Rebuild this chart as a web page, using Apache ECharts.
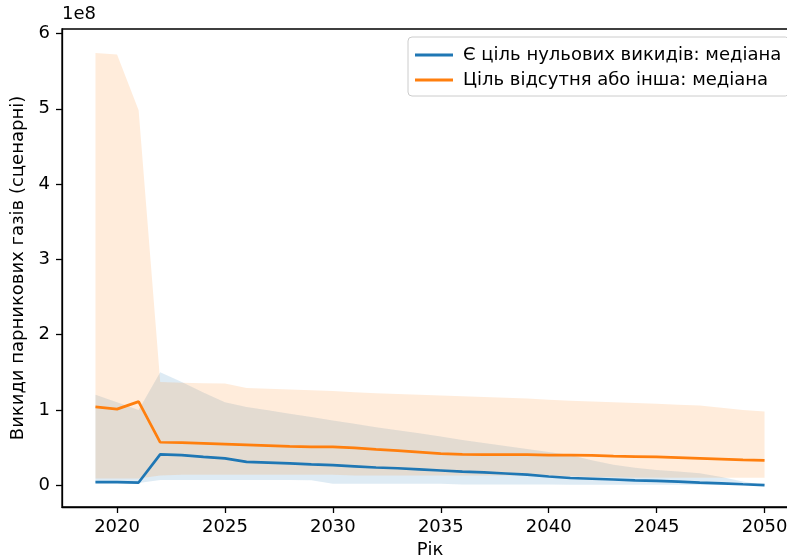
<!DOCTYPE html>
<html>
<head>
<meta charset="utf-8">
<script src="https://cdn.jsdelivr.net/npm/echarts@6/dist/echarts.min.js"></script>
<style>
  html, body { margin: 0; padding: 0; background: #fff; }
  #chart { width: 787px; height: 558px; }
</style>
</head>
<body>
<div id="chart"></div>
<script>
// значення в одиницях 1e8
var years = [2019, 2020, 2021, 2022, 2023, 2024, 2025, 2026, 2027, 2028, 2029, 2030, 2031, 2032, 2033, 2034,
             2035, 2036, 2037, 2038, 2039, 2040, 2041, 2042, 2043, 2044, 2045, 2046, 2047, 2048, 2049, 2050];

var netZeroMedian = [0.04, 0.04, 0.035, 0.41, 0.40, 0.375, 0.355, 0.31, 0.30, 0.29, 0.275, 0.265, 0.25, 0.235, 0.225, 0.21,
                     0.195, 0.18, 0.17, 0.155, 0.14, 0.115, 0.095, 0.085, 0.075, 0.065, 0.057, 0.047, 0.035, 0.025, 0.012, 0.0];
var netZeroLow = [0.03, 0.03, 0.03, 0.07, 0.07, 0.07, 0.07, 0.07, 0.07, 0.07, 0.065, 0.02, 0.02, 0.02, 0.02, 0.02,
                  0.02, 0.01, 0.01, 0.01, 0.01, 0.01, 0.005, 0.005, 0.005, 0.005, 0.005, 0.005, 0.005, 0.005, 0.005, 0.0];
var netZeroHigh = [1.20, 1.10, 1.00, 1.50, 1.37, 1.23, 1.10, 1.04, 0.995, 0.95, 0.905, 0.86, 0.815, 0.77, 0.73, 0.69,
                   0.645, 0.60, 0.56, 0.52, 0.48, 0.44, 0.40, 0.33, 0.27, 0.23, 0.20, 0.18, 0.16, 0.11, 0.05, 0.0];

var otherMedian = [1.04, 1.01, 1.11, 0.57, 0.565, 0.555, 0.545, 0.535, 0.525, 0.515, 0.51, 0.51, 0.495, 0.475, 0.46, 0.44,
                   0.42, 0.41, 0.405, 0.405, 0.405, 0.40, 0.40, 0.395, 0.385, 0.38, 0.375, 0.365, 0.355, 0.345, 0.335, 0.33];
var otherLow = [0.09, 0.09, 0.09, 0.13, 0.14, 0.14, 0.14, 0.14, 0.14, 0.14, 0.14, 0.14, 0.13, 0.13, 0.13, 0.13,
                0.13, 0.13, 0.13, 0.13, 0.13, 0.13, 0.12, 0.11, 0.105, 0.10, 0.10, 0.10, 0.10, 0.10, 0.10, 0.10];
var otherHigh = [5.74, 5.72, 4.98, 1.37, 1.36, 1.355, 1.35, 1.29, 1.28, 1.27, 1.26, 1.25, 1.235, 1.22, 1.21, 1.20,
                 1.19, 1.18, 1.17, 1.16, 1.15, 1.135, 1.12, 1.11, 1.10, 1.09, 1.08, 1.07, 1.06, 1.03, 1.0, 0.98];

// підписи осей
var xTicks = [2020, 2025, 2030, 2035, 2040, 2045, 2050];
var yTicks = [0, 1, 2, 3, 4, 5, 6];

var nameNetZero = 'Є ціль нульових викидів: медіана';
var nameOther = 'Ціль відсутня або інша: медіана';

var FONT = 'DejaVu Sans';
var BLUE = '#1f77b4', ORANGE = '#ff7f0e';

function pairs(arr) {
    return years.map(function (y, i) { return [y, arr[i]]; });
}

// смуга між нижньою та верхньою межею - один полігон
function bandSeries(low, high, color) {
    return {
        type: 'custom',
        silent: true,
        data: years.map(function (y, i) { return [y, low[i], high[i]]; }),
        encode: { x: 0, y: [1, 2] },
        renderItem: function (params, api) {
            if (params.dataIndex !== 0) return;
            var pts = [];
            for (var i = 0; i < years.length; i++) pts.push(api.coord([years[i], high[i]]));
            for (var j = years.length - 1; j >= 0; j--) pts.push(api.coord([years[j], low[j]]));
            return { type: 'polygon', shape: { points: pts }, style: { fill: color } };
        }
    };
}

var myChart = echarts.init(document.getElementById('chart'));
var option = {
    animation: false,
    textStyle: { fontFamily: FONT },
    grid: {
        left: 62, top: 29, width: 736, height: 478,
        show: true, borderColor: '#000', borderWidth: 1.3,
        containLabel: false, outerBoundsMode: 'none'
    },
    graphic: [{
        type: 'text', left: 62, top: 5,
        style: { text: '1e8', font: '18px "DejaVu Sans"', fill: '#000' }
    }],
    legend: {
        data: [nameNetZero, nameOther],
        orient: 'vertical',
        left: 408, top: 37,
        padding: [8, 8, 6, 7],
        icon: 'rect',
        itemWidth: 38, itemHeight: 3,
        itemGap: 5,
        borderColor: '#cccccc', borderWidth: 1, borderRadius: 4,
        backgroundColor: 'rgba(255,255,255,0.8)',
        textStyle: { fontSize: 18, fontFamily: FONT, color: '#000', lineHeight: 20, padding: [0, 0, 0, 5] }
    },
    xAxis: {
        type: 'value',
        min: 2017.45, max: 2051.55,
        name: 'Рік', nameLocation: 'middle', nameGap: 34,
        nameTextStyle: { fontSize: 18, fontFamily: FONT, color: '#000' },
        axisLine: { onZero: false, lineStyle: { color: '#000', width: 1.3 } },
        axisTick: { length: 6, customValues: xTicks, lineStyle: { color: '#000', width: 1.3 } },
        axisLabel: {
            fontSize: 18, color: '#000', fontFamily: FONT, margin: 11, customValues: xTicks,
            formatter: function (v) { return String(v); }
        },
        splitLine: { show: false }
    },
    yAxis: {
        type: 'value',
        min: -0.29, max: 6.06,
        name: 'Викиди парникових газів (сценарні)', nameLocation: 'middle', nameGap: 28, nameRotate: 90,
        nameTextStyle: { fontSize: 18, fontFamily: FONT, color: '#000' },
        axisLine: { onZero: false, lineStyle: { color: '#000', width: 1.3 } },
        axisTick: { length: 6, customValues: yTicks, lineStyle: { color: '#000', width: 1.3 } },
        axisLabel: {
            fontSize: 18, color: '#000', fontFamily: FONT, margin: 12, customValues: yTicks,
            formatter: function (v) { return String(v); }
        },
        splitLine: { show: false }
    },
    series: [
        bandSeries(netZeroLow, netZeroHigh, 'rgba(31,119,180,0.15)'),
        bandSeries(otherLow, otherHigh, 'rgba(255,127,14,0.15)'),
        {
            name: nameNetZero, type: 'line', data: pairs(netZeroMedian),
            symbol: 'none', color: BLUE, lineStyle: { width: 2.7, color: BLUE }
        },
        {
            name: nameOther, type: 'line', data: pairs(otherMedian),
            symbol: 'none', color: ORANGE, lineStyle: { width: 2.7, color: ORANGE }
        }
    ]
};
myChart.setOption(option);
</script>
</body>
</html>
